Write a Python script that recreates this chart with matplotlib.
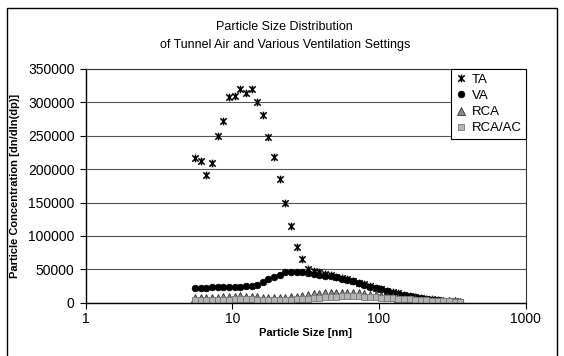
import matplotlib
matplotlib.use("Agg")
import matplotlib.pyplot as plt
from matplotlib.path import Path
from matplotlib.patches import Rectangle

plt.rcParams['font.family'] = ['Liberation Sans', 'DejaVu Sans']

size_nm = [5.57, 6.09, 6.65, 7.27, 7.94, 8.68, 9.48, 10.36, 11.32, 12.38,
           13.52, 14.77, 16.14, 17.64, 19.28, 21.06, 23.01, 25.15, 27.48, 30.03,
           32.81, 35.85, 39.17, 42.80, 46.77, 51.11, 55.85, 61.02, 66.68, 72.86,
           79.62, 87.00, 95.06, 103.9, 113.5, 124.0, 135.5, 148.1, 161.8, 176.8,
           193.2, 211.1, 230.7, 252.0, 275.4, 301.0, 328.9, 359.4]

ta = [217000, 212600, 190700, 209600, 250000, 272000, 307500, 309000, 319500, 313500,
      319500, 301000, 281000, 248500, 218600, 185600, 148800, 114800, 83800, 65400,
      50000, 48000, 46000, 43500, 41000, 39000, 37000, 35000, 32500, 30000,
      27500, 25000, 22500, 20000, 18000, 16000, 14000, 12000, 10000, 8500,
      7000, 6000, 5000, 4000, 3200, 2500, 2000, 1500]

va = [22500, 22500, 22600, 23000, 23800, 23200, 23800, 24000, 24000, 24500,
      25500, 26500, 31000, 35000, 39000, 42000, 45500, 46500, 46500, 46000,
      45000, 43500, 42000, 40500, 39500, 38000, 36000, 34000, 32000, 30000,
      27000, 24000, 22000, 20000, 18000, 14500, 13000, 11500, 10000, 8500,
      7000, 5500, 4500, 3500, 2500, 2000, 1500, 1000]

rca = [6500, 7000, 7000, 7500, 7500, 8000, 8500, 9000, 9500, 9000,
       8500, 8000, 7500, 7000, 7000, 7000, 7500, 8000, 9000, 10000,
       11000, 12500, 13500, 14000, 14500, 14500, 15000, 14500, 14500, 14000,
       13000, 12000, 11000, 10000, 9000, 8000, 7000, 6000, 5500, 5000,
       4500, 4000, 3500, 3000, 2500, 2000, 1800, 1500]

rca_ac = [3500, 3800, 4000, 4000, 4200, 4500, 4500, 5000, 5000, 5000,
          4800, 4500, 4200, 4000, 4000, 4000, 4200, 4500, 5000, 5500,
          6000, 6500, 7500, 8000, 8500, 9000, 9500, 9500, 9500, 9500,
          9000, 8500, 8000, 7500, 7000, 6500, 6000, 5500, 5000, 4500,
          4000, 3500, 3000, 2500, 2200, 2000, 1700, 1500]

series_names = ['TA', 'VA', 'RCA', 'RCA/AC']
x_ticks = [1, 10, 100, 1000]
x_tick_labels = ['1', '10', '100', '1000']
y_ticks = [0, 50000, 100000, 150000, 200000, 250000, 300000, 350000]

# asterisk marker: x plus vertical line
star = Path([(-1, -1), (1, 1), (-1, 1), (1, -1), (0, -1.2), (0, 1.2)],
            [Path.MOVETO, Path.LINETO, Path.MOVETO, Path.LINETO, Path.MOVETO, Path.LINETO])

fig = plt.figure(figsize=(5.64, 3.56), dpi=100)
fig.patches.append(Rectangle((7/564, -0.1), 550/564, 1.1 - 8/356, transform=fig.transFigure,
                             fill=False, edgecolor='black', linewidth=1.0))
ax = fig.add_axes([85.7/564, 1 - 302.7/356, (525.5 - 85.7)/564, (302.7 - 69)/356])

ax.plot(size_nm, ta, linestyle='none', marker=star, markersize=5.5, markeredgewidth=1.1,
        color='black', label=series_names[0])
ax.plot(size_nm, va, linestyle='none', marker='o', markersize=4.8, color='black',
        markeredgewidth=0.5, label=series_names[1])
ax.plot(size_nm, rca, linestyle='none', marker='^', markersize=5.5, markerfacecolor='#8a8a8a',
        markeredgecolor='#303030', markeredgewidth=0.6, label=series_names[2])
ax.plot(size_nm, rca_ac, linestyle='none', marker='s', markersize=4.8, markerfacecolor='#b4b4b4',
        markeredgecolor='#787878', markeredgewidth=0.6, label=series_names[3])

ax.set_xscale('log')
ax.set_xlim(1, 1000)
ax.set_ylim(0, 350000)
ax.set_xticks(x_ticks)
ax.set_xticklabels(x_tick_labels)
ax.minorticks_off()
ax.set_yticks(y_ticks)
ax.set_yticklabels([str(v) for v in y_ticks])
ax.tick_params(axis='both', labelsize=10, direction='out', length=4, width=0.8)
ax.tick_params(axis='y', pad=4)
ax.tick_params(axis='x', pad=3)
ax.yaxis.grid(True, color='#555555', linewidth=0.8)
ax.set_axisbelow(True)
for s in ax.spines.values():
    s.set_linewidth(0.8)
    s.set_color('#333333')
ax.spines['left'].set_color('black')
ax.spines['bottom'].set_color('black')
ax.spines['left'].set_linewidth(1.0)
ax.spines['bottom'].set_linewidth(1.0)

ax.set_xlabel('Particle Size [nm]', fontsize=8, fontweight='bold', labelpad=1)
ax.set_ylabel('Particle Concentration [dn/dln(dp)]', fontsize=8, fontweight='bold', labelpad=6)

fig.text(0.505, 1 - 27/356, 'Particle Size Distribution', ha='center', va='center', fontsize=9)
fig.text(0.505, 1 - 45/356, 'of Tunnel Air and Various Ventilation Settings', ha='center', va='center', fontsize=9)

leg = ax.legend(loc='upper right', bbox_to_anchor=(1.002, 1.0), fontsize=9.5, frameon=True,
                fancybox=False, edgecolor='black', borderpad=0.35, handlelength=0.8,
                handletextpad=0.4, labelspacing=0.3, borderaxespad=0)
leg.get_frame().set_linewidth(0.8)
leg.get_frame().set_alpha(1)

fig.savefig('out.png', dpi=100)
